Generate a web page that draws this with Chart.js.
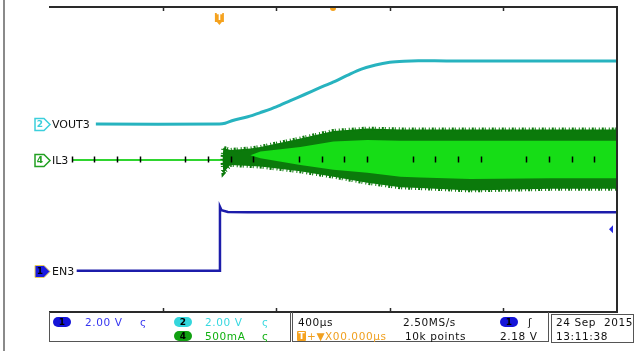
<!DOCTYPE html>
<html>
<head>
<meta charset="utf-8">
<script src="https://cdn.jsdelivr.net/npm/chart.js@4.4.1/dist/chart.umd.min.js"></script>
<style>
body{margin:0;background:#fff;width:636px;height:351px;overflow:hidden;position:relative;font-family:"DejaVu Sans",sans-serif}
#scope{position:absolute;left:0;top:0}
.edge{position:absolute;left:3px;top:0;width:2px;height:351px;background:#8a8a8a}
.box{position:absolute;top:312px;height:29px;border:1px solid #555;border-top:none}
.t{position:absolute;font-size:10.5px;white-space:nowrap;line-height:12px;letter-spacing:0.6px;color:#111}
.pill{position:absolute;width:18px;height:10px;border-radius:5px;font-size:9px;line-height:10px;text-align:center;font-weight:bold;color:#000}
</style>
</head>
<body>
<div class="edge"></div>
<canvas id="scope" width="636" height="351"></canvas>

<div class="box" style="left:49px;width:240px"></div>
<div class="box" style="left:292px;width:255px"></div>
<div class="box" style="left:551px;width:81px;top:314px;height:27px;border-top:1px solid #555"></div>

<div class="pill" style="left:53px;top:317px;background:#1414d8">1</div>
<div class="t" style="left:85px;top:316px;color:#3535f0">2.00 V</div>
<div class="t" style="left:140px;top:316px;color:#3535f0">ς</div>
<div class="pill" style="left:174px;top:317px;background:#33d6dc">2</div>
<div class="t" style="left:205px;top:316px;color:#38d8e0">2.00 V</div>
<div class="t" style="left:262px;top:316px;color:#38d8e0">ς</div>
<div class="pill" style="left:174px;top:331px;background:#11a011">4</div>
<div class="t" style="left:205px;top:330px;color:#10b010">500mA</div>
<div class="t" style="left:262px;top:330px;color:#10b010">ς</div>

<div class="t" style="left:298px;top:316px">400µs</div>
<div class="t" style="left:403px;top:316px">2.50MS/s</div>
<div class="pill" style="left:500px;top:317px;background:#1414d8">1</div>
<div class="t" style="left:528px;top:316px">ʃ</div>
<div class="pill" style="left:297px;top:331px;width:9px;border-radius:1px;background:#f5a21e;color:#fff">T</div>
<div class="t" style="left:307px;top:330px;color:#f0a020">+▼X00.000µs</div>
<div class="t" style="left:405px;top:330px">10k points</div>
<div class="t" style="left:500px;top:330px">2.18 V</div>

<div class="t" style="left:556px;top:316px">24 Sep&nbsp;&nbsp;2015</div>
<div class="t" style="left:556px;top:330px">13:11:38</div>

<script>
// horizontal: 10 div x 400us, trigger at t = 0
var timeRange = [-1200, 2800];
var frameTicks = [-400, 400, 1200, 2000];
var divCount = 8;

// channel settings: ground position (div from bottom), volts (or amps) per div
var ch1Offset = 1.08, ch1Scale = 2.0;
var ch2Offset = 4.93, ch2Scale = 2.0;
var ch4Offset = 3.99, ch4Scale = 0.5;
var triggerLevel = 2.18;
var zoomMark = 800;

// CH1 EN3 (V)
var enTime  = [-1005, 0, 4, 15, 60, 200, 800, 1600, 2800];
var enVolts = [0, 0, 3.36, 3.18, 3.09, 3.07, 3.07, 3.07, 3.07];

// CH2 VOUT3 (V)
var voutTime  = [-870, 0, 40, 100, 200, 300, 400, 500, 600, 700, 800, 900, 1000, 1100, 1200, 1300, 1400, 1600, 2000, 2400, 2800];
var voutVolts = [0, 0, 0.04, 0.2, 0.38, 0.63, 0.9, 1.23, 1.55, 1.88, 2.2, 2.55, 2.88, 3.1, 3.24, 3.3, 3.32, 3.31, 3.31, 3.31, 3.31];

// CH4 IL3 (A) - ripple envelope, outer (dark) and inner (bright) edges
var ilTime       = [-1035, 0, 21, 28, 77, 218, 289, 570, 803, 1042, 1275, 1415, 1768, 2331, 2800];
var ilOuterHigh  = [0, 0, 0, 0.16, 0.13, 0.15, 0.17, 0.28, 0.38, 0.41, 0.4, 0.4, 0.4, 0.4, 0.4];
var ilOuterLow   = [0, 0, 0, -0.17, -0.066, -0.08, -0.088, -0.15, -0.22, -0.3, -0.36, -0.37, -0.4, -0.38, -0.38];
var ilInnerHigh  = [0, 0, 0, 0.05, 0.05, 0.06, 0.11, 0.17, 0.24, 0.26, 0.25, 0.25, 0.25, 0.25, 0.25];
var ilInnerLow   = [0, 0, 0, 0.05, 0.05, 0.06, 0.02, -0.066, -0.13, -0.17, -0.22, -0.23, -0.25, -0.24, -0.24];

function trace(times, vals, off, sc) {
  return times.map(function (t, i) { return {x: t, y: off + vals[i] / sc}; });
}

var preTrig = function (c) { return c.p1.parsed.x <= 21; };
var ilColor = function (c) { return preTrig(c) ? '#2fd52f' : '#0b7a0b'; };
var ilWidth = function (c) { return preTrig(c) ? 2 : 4; };
var ilFuzz = function (c) { return preTrig(c) ? undefined : [1, 2, 2, 1, 1, 3]; };

var scopeDraw = {
  id: 'scopeDraw',
  afterDatasetsDraw: function (chart) {
    var c = chart.ctx, a = chart.chartArea, xs = chart.scales.x, ys = chart.scales.y;
    c.save();
    // graticule ticks on the center line (visible over the IL trace)
    var cy = ys.getPixelForValue(divCount / 2);
    c.strokeStyle = '#000';
    c.lineWidth = 1.5;
    for (var t = -1040; t < timeRange[1]; t += 160) {
      if ((t + 1200) % 800 === 0) continue;
      var px = Math.round(xs.getPixelForValue(t)) + 0.5;
      c.beginPath(); c.moveTo(px, cy - 3); c.lineTo(px, cy + 3); c.stroke();
    }
    // frame
    c.strokeStyle = '#2a2a2a';
    c.lineWidth = 2;
    c.beginPath();
    c.moveTo(a.left, a.top); c.lineTo(a.right, a.top); c.lineTo(a.right, a.bottom); c.lineTo(a.left, a.bottom);
    c.stroke();
    c.lineWidth = 1.5;
    frameTicks.forEach(function (t) {
      var px = Math.round(xs.getPixelForValue(t)) + 0.5;
      c.beginPath(); c.moveTo(px, a.top); c.lineTo(px, a.top + 4); c.stroke();
      c.beginPath(); c.moveTo(px, a.bottom); c.lineTo(px, a.bottom - 4); c.stroke();
    });
    // trigger position marker
    var tx = xs.getPixelForValue(0);
    c.fillStyle = '#f5a21e';
    c.fillRect(tx - 4.5, 13, 9, 9);
    c.beginPath(); c.moveTo(tx - 2.5, 22); c.lineTo(tx + 2.5, 22); c.lineTo(tx, 25); c.fill();
    c.fillStyle = '#fff';
    c.font = 'bold 8px "DejaVu Sans"';
    c.textAlign = 'center'; c.textBaseline = 'middle';
    c.fillText('T', tx, 17.5);
    // zoom point on top border
    c.fillStyle = '#f5a21e';
    c.beginPath(); c.arc(xs.getPixelForValue(zoomMark), a.top + 1, 3, 0, Math.PI); c.fill();
    // trigger level marker
    var ty = ys.getPixelForValue(ch1Offset + triggerLevel / ch1Scale);
    c.fillStyle = '#2a2ae0';
    c.beginPath(); c.moveTo(a.right - 8, ty); c.lineTo(a.right - 4, ty - 4); c.lineTo(a.right - 4, ty + 4); c.fill();
    // channel ground markers + names
    var marks = [
      {off: ch2Offset, n: '2', name: 'VOUT3', col: '#3ccfdc', filled: false},
      {off: ch4Offset, n: '4', name: 'IL3', col: '#22a022', filled: false},
      {off: ch1Offset, n: '1', name: 'EN3', col: '#1a1ae0', filled: true}
    ];
    marks.forEach(function (m) {
      var gy = Math.round(ys.getPixelForValue(m.off)) + 0.5;
      c.beginPath();
      c.moveTo(35, gy - 6); c.lineTo(44, gy - 6); c.lineTo(50, gy); c.lineTo(44, gy + 6); c.lineTo(35, gy + 6); c.closePath();
      if (m.filled) {
        c.fillStyle = m.col; c.fill();
        c.strokeStyle = '#e6cf55'; c.lineWidth = 1; c.stroke();
        c.fillStyle = '#000';
      } else {
        c.fillStyle = '#fff'; c.fill();
        c.strokeStyle = m.col; c.lineWidth = 1.5; c.stroke();
        c.fillStyle = m.col;
      }
      c.font = 'bold 9px "DejaVu Sans"';
      c.textAlign = 'center'; c.textBaseline = 'middle';
      c.fillText(m.n, 40, gy + 0.5);
      c.fillStyle = '#111';
      c.font = '11px "DejaVu Sans"';
      c.textAlign = 'left';
      c.fillText(m.name, 52, gy + 0.5);
    });
    c.restore();
  }
};

new Chart(document.getElementById('scope'), {
  type: 'line',
  data: {
    datasets: [
      {label: 'EN3', data: trace(enTime, enVolts, ch1Offset, ch1Scale), borderColor: '#1c1caa', borderWidth: 2.5, order: 1},
      {label: 'VOUT3', data: trace(voutTime, voutVolts, ch2Offset, ch2Scale), borderColor: '#27b3bf', borderWidth: 3, tension: 0.3, order: 2},
      {label: 'IL3 inner high', data: trace(ilTime, ilInnerHigh, ch4Offset, ch4Scale), borderWidth: 0, backgroundColor: '#16dd16', fill: '+1', order: 3},
      {label: 'IL3 inner low', data: trace(ilTime, ilInnerLow, ch4Offset, ch4Scale), borderWidth: 0, order: 4},
      {label: 'IL3 outer high', data: trace(ilTime, ilOuterHigh, ch4Offset, ch4Scale), borderWidth: 4, borderColor: '#0b7a0b', segment: {borderColor: ilColor, borderWidth: ilWidth, borderDash: ilFuzz}, backgroundColor: '#0b7a0b', fill: '+1', order: 5},
      {label: 'IL3 outer low', data: trace(ilTime, ilOuterLow, ch4Offset, ch4Scale), borderWidth: 4, borderColor: '#0b7a0b', segment: {borderColor: ilColor, borderWidth: ilWidth, borderDash: ilFuzz}, order: 6}
    ]
  },
  options: {
    responsive: false,
    animation: false,
    devicePixelRatio: 1,
    layout: {padding: {left: 49, right: 19, top: 7, bottom: 39}},
    elements: {point: {radius: 0}, line: {tension: 0}},
    plugins: {legend: {display: false}, tooltip: {enabled: false}},
    scales: {
      x: {type: 'linear', min: timeRange[0], max: timeRange[1], display: false},
      y: {min: 0, max: divCount, display: false}
    }
  },
  plugins: [scopeDraw]
});
</script>
</body>
</html>
